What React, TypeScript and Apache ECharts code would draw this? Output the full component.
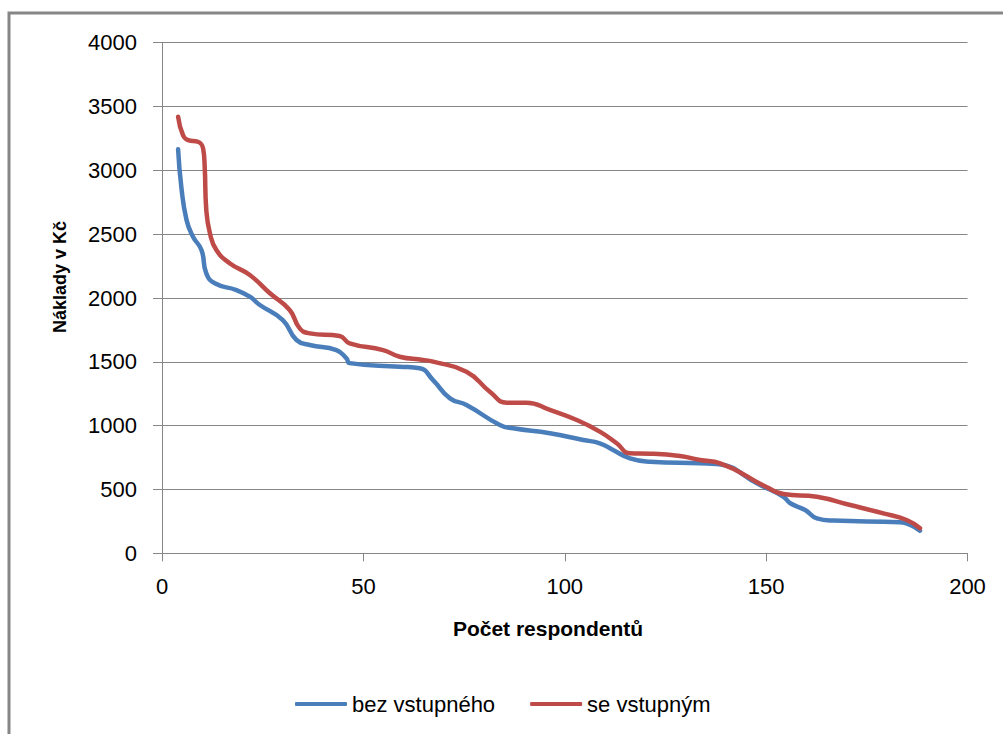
import React, { useEffect, useRef } from "react";
import * as echarts from "echarts";

const seriesNames = ["bez vstupného", "se vstupným"];
const xTicks = [0, 50, 100, 150, 200];
const yTicks = [0, 500, 1000, 1500, 2000, 2500, 3000, 3500, 4000];

const blueX = [4, 4.8, 6.1, 7.7, 9.8, 11.0, 13.1, 18.5, 21.8, 24.3, 30, 33.4, 36.7, 43.3, 45.8, 46.6, 59, 64, 67.3, 71.5, 75.6, 83.9, 87.2, 96.3, 104.6, 108.7, 112, 116.2, 121.2, 133.6, 137.7, 148.5, 154.3, 156, 159.7, 162.6, 166.7, 183.3, 185.8, 188.2];
const blueY = [3165, 2870, 2610, 2480, 2376, 2193, 2115, 2062, 2010, 1945, 1827, 1671, 1632, 1592, 1527, 1490, 1462, 1449, 1357, 1214, 1162, 1005, 979, 940, 887, 862, 809, 744, 718, 705, 700, 535, 443, 392, 339, 274, 256, 243, 222, 177];

const redX = [4, 5.2, 6.5, 8.9, 10.2, 10.6, 11, 11.9, 13.5, 16.8, 21.8, 26.8, 31.7, 34.2, 36.7, 44.1, 46.6, 54.9, 59, 64.8, 67.3, 75.6, 81.4, 85.6, 90.5, 96.3, 103, 108.7, 112.9, 116.2, 121.2, 128.6, 133.6, 138.6, 150.2, 154.3, 162.6, 170.9, 179.1, 184.9, 188.2];
const redY = [3420, 3277, 3237, 3224, 3172, 3028, 2689, 2507, 2376, 2272, 2180, 2037, 1906, 1762, 1723, 1702, 1645, 1592, 1540, 1515, 1501, 1423, 1266, 1180, 1180, 1123, 1044, 953, 862, 783, 780, 762, 731, 705, 517, 464, 443, 378, 313, 261, 196];

const FONT = "'Liberation Sans', Arial, sans-serif";
const GRAY = "#868686";

export default function App() {
  const ref = useRef<HTMLDivElement>(null);
  useEffect(() => {
    if (!ref.current) return;
    const chart = echarts.init(ref.current, undefined, { renderer: "svg" });
    const zip = (xs: number[], ys: number[]) => xs.map((x, i) => [x, ys[i]]);
    chart.setOption({
      animation: false,
      backgroundColor: "#ffffff",
      grid: { left: 162, right: 35.5, top: 42.7, bottom: 180.7, containLabel: false },
      xAxis: {
        type: "value",
        min: xTicks[0],
        max: xTicks[xTicks.length - 1],
        interval: 50,
        axisLine: { lineStyle: { color: GRAY, width: 1 } },
        axisTick: { show: true, inside: false, length: 8, lineStyle: { color: GRAY } },
        splitLine: { show: false },
        axisLabel: { color: "#000", fontFamily: FONT, fontSize: 22, margin: 22, formatter: (v: number) => String(v) },
      },
      yAxis: {
        type: "value",
        min: yTicks[0],
        max: yTicks[yTicks.length - 1],
        interval: 500,
        axisLine: { show: true, lineStyle: { color: GRAY, width: 1 } },
        axisTick: { show: true, inside: false, length: 9, lineStyle: { color: GRAY } },
        splitLine: { show: true, lineStyle: { color: GRAY, width: 1 } },
        axisLabel: { color: "#000", fontFamily: FONT, fontSize: 22, margin: 25, formatter: (v: number) => String(v) },
      },
      legend: {
        left: 290,
        top: 688,
        itemWidth: 52,
        itemHeight: 4,
        itemGap: 35,
        icon: "roundRect",
        textStyle: { color: "#000", fontFamily: FONT, fontSize: 22 },
        data: seriesNames,
      },
      graphic: [
        {
          type: "polyline",
          shape: { points: [[9, 734], [9, 13], [1003, 13]] },
          style: { stroke: GRAY, lineWidth: 3, fill: null },
          silent: true,
        },
        {
          type: "text",
          x: 548,
          y: 628,
          style: {
            text: "Počet respondentů",
            fontFamily: FONT,
            fontSize: 21,
            fontWeight: "bold",
            fill: "#000",
            align: "center",
            verticalAlign: "middle",
          },
        },
        {
          type: "text",
          x: 60,
          y: 277,
          rotation: Math.PI / 2,
          style: {
            text: "Náklady v Kč",
            fontFamily: FONT,
            fontSize: 18,
            fontWeight: "bold",
            fill: "#000",
            align: "center",
            verticalAlign: "middle",
          },
        },
      ],
      series: [
        {
          name: seriesNames[0],
          type: "line",
          data: zip(blueX, blueY),
          smooth: 0.5,
          symbol: "none",
          lineStyle: { color: "#4A7EBB", width: 4.5, cap: "round", join: "round" },
          itemStyle: { color: "#4A7EBB" },
        },
        {
          name: seriesNames[1],
          type: "line",
          data: zip(redX, redY),
          smooth: 0.5,
          symbol: "none",
          lineStyle: { color: "#BE4B48", width: 4.5, cap: "round", join: "round" },
          itemStyle: { color: "#BE4B48" },
        },
      ],
    });
    return () => chart.dispose();
  }, []);
  return (
    <div
      ref={ref}
      style={{ position: "fixed", left: 0, top: 0, width: 1003, height: 734, background: "#fff" }}
    />
  );
}
